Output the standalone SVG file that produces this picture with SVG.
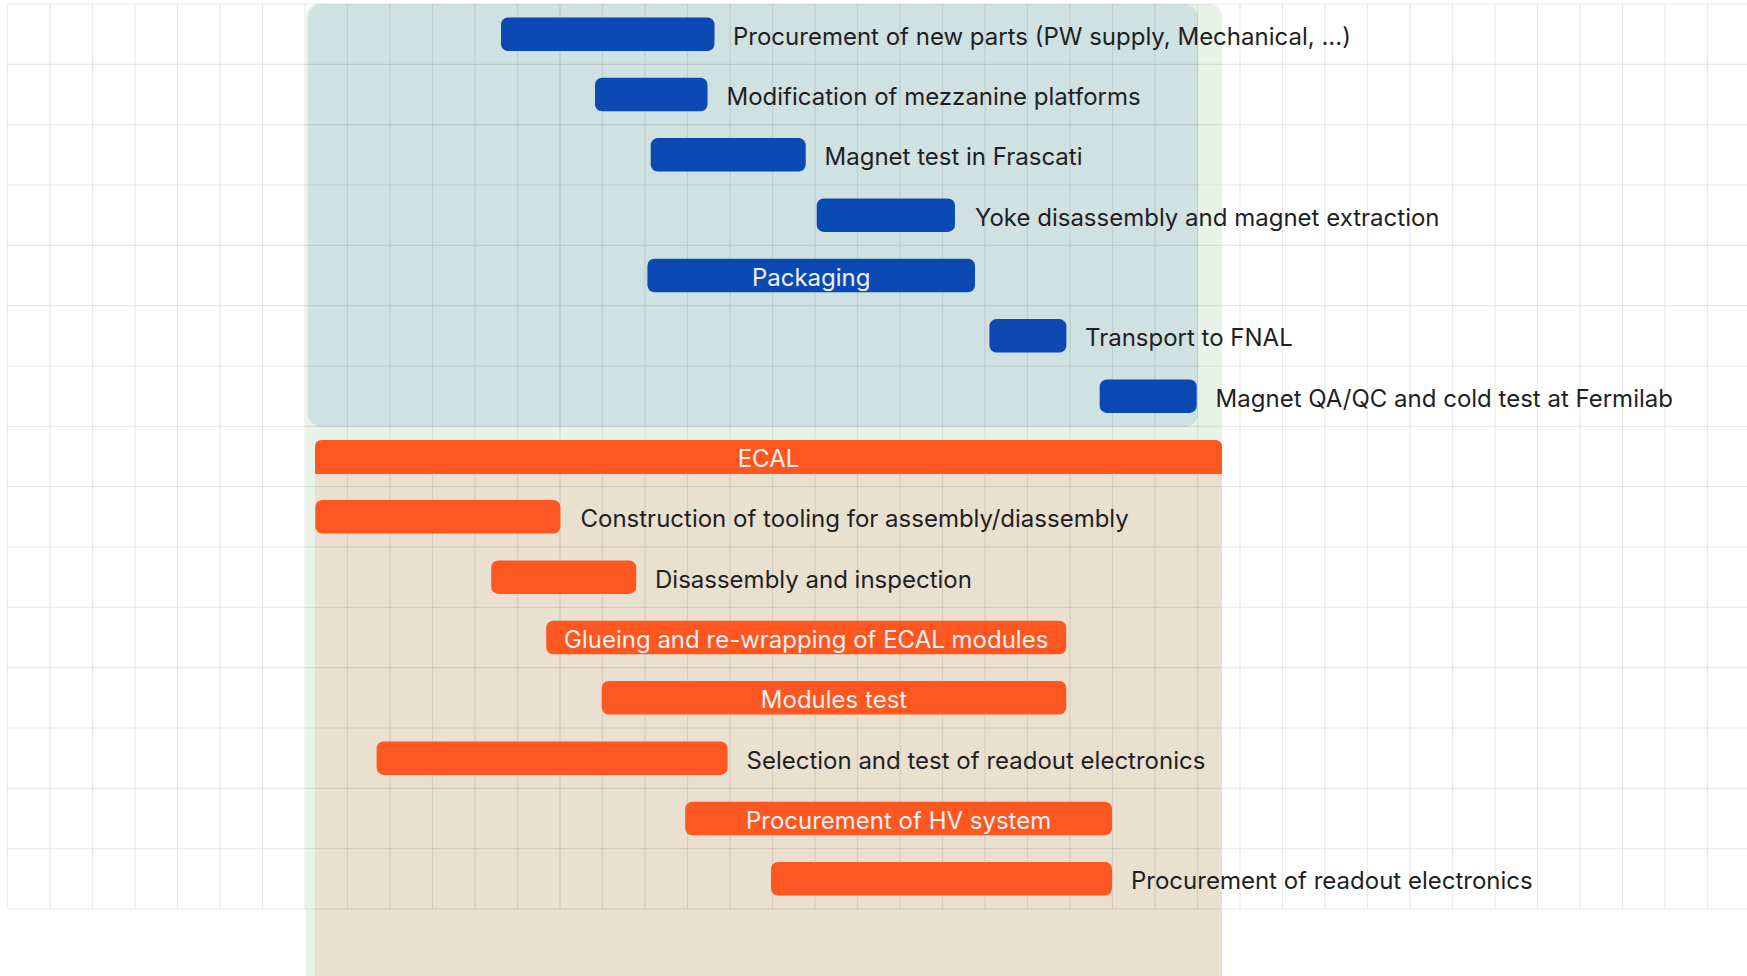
<svg xmlns="http://www.w3.org/2000/svg" width="1747" height="976" viewBox="0 0 1747 976">
<style>
.grid line{stroke:#000;stroke-opacity:0.085;stroke-width:1.2}
.bb{fill:#0b4ab2}
.ob{fill:#ff5722}
.lbl{font-family:Inter,"Liberation Sans",sans-serif;font-size:24px;fill:#1f1f1f}
.in{font-family:Inter,"Liberation Sans",sans-serif;font-size:24px;fill:#f0f0f0;text-anchor:middle}
</style>
<rect width="1747" height="976" fill="#ffffff"/>
<g id="groups">
<path d="M306 976 V18 Q306 4 320 4 H1208 Q1222 4 1222 18 V976 Z" fill="#e8f3e8"/>
<rect id="magnet-group" x="308" y="4" width="890" height="423" rx="14" fill="#d0e1e1"/>
<rect id="ecal-body" x="315" y="470" width="907" height="506" fill="#e9e0d0"/>
</g>
<g class="grid" id="grid">
<line x1="7.5" y1="4" x2="7.5" y2="909"/><line x1="50" y1="4" x2="50" y2="909"/><line x1="92.5" y1="4" x2="92.5" y2="909"/><line x1="135" y1="4" x2="135" y2="909"/><line x1="177.5" y1="4" x2="177.5" y2="909"/><line x1="220" y1="4" x2="220" y2="909"/><line x1="262.5" y1="4" x2="262.5" y2="909"/><line x1="305" y1="4" x2="305" y2="909"/><line x1="347.5" y1="4" x2="347.5" y2="909"/><line x1="390" y1="4" x2="390" y2="909"/><line x1="432.5" y1="4" x2="432.5" y2="909"/><line x1="475" y1="4" x2="475" y2="909"/><line x1="517.5" y1="4" x2="517.5" y2="909"/><line x1="560" y1="4" x2="560" y2="909"/><line x1="602.5" y1="4" x2="602.5" y2="909"/><line x1="645" y1="4" x2="645" y2="909"/><line x1="687.5" y1="4" x2="687.5" y2="909"/><line x1="730" y1="4" x2="730" y2="909"/><line x1="772.5" y1="4" x2="772.5" y2="909"/><line x1="815" y1="4" x2="815" y2="909"/><line x1="857.5" y1="4" x2="857.5" y2="909"/><line x1="900" y1="4" x2="900" y2="909"/><line x1="942.5" y1="4" x2="942.5" y2="909"/><line x1="985" y1="4" x2="985" y2="909"/><line x1="1027.5" y1="4" x2="1027.5" y2="909"/><line x1="1070" y1="4" x2="1070" y2="909"/><line x1="1112.5" y1="4" x2="1112.5" y2="909"/><line x1="1155" y1="4" x2="1155" y2="909"/><line x1="1197.5" y1="4" x2="1197.5" y2="909"/><line x1="1240" y1="4" x2="1240" y2="909"/><line x1="1282.5" y1="4" x2="1282.5" y2="909"/><line x1="1325" y1="4" x2="1325" y2="909"/><line x1="1367.5" y1="4" x2="1367.5" y2="909"/><line x1="1410" y1="4" x2="1410" y2="909"/><line x1="1452.5" y1="4" x2="1452.5" y2="909"/><line x1="1495" y1="4" x2="1495" y2="909"/><line x1="1537.5" y1="4" x2="1537.5" y2="909"/><line x1="1580" y1="4" x2="1580" y2="909"/><line x1="1622.5" y1="4" x2="1622.5" y2="909"/><line x1="1665" y1="4" x2="1665" y2="909"/><line x1="1707.5" y1="4" x2="1707.5" y2="909"/>
<line x1="7.5" y1="4" x2="1747" y2="4"/><line x1="7.5" y1="64.3" x2="1747" y2="64.3"/><line x1="7.5" y1="124.7" x2="1747" y2="124.7"/><line x1="7.5" y1="185" x2="1747" y2="185"/><line x1="7.5" y1="245.3" x2="1747" y2="245.3"/><line x1="7.5" y1="305.7" x2="1747" y2="305.7"/><line x1="7.5" y1="366" x2="1747" y2="366"/><line x1="7.5" y1="426.3" x2="1747" y2="426.3"/><line x1="7.5" y1="486.7" x2="1747" y2="486.7"/><line x1="7.5" y1="547" x2="1747" y2="547"/><line x1="7.5" y1="607.3" x2="1747" y2="607.3"/><line x1="7.5" y1="667.7" x2="1747" y2="667.7"/><line x1="7.5" y1="728" x2="1747" y2="728"/><line x1="7.5" y1="788.3" x2="1747" y2="788.3"/><line x1="7.5" y1="848.7" x2="1747" y2="848.7"/><line x1="7.5" y1="909" x2="1747" y2="909"/>
</g>
<g id="connectors"/>
<g id="n1"><rect class="bb" x="501" y="17.5" width="213.5" height="33.5" rx="7"/><text class="lbl" x="733" y="44.5">Procurement of new parts (PW supply, Mechanical, ...)</text></g>
<g id="n2"><rect class="bb" x="595" y="77.8" width="112.5" height="33.5" rx="7"/><text class="lbl" x="726.5" y="104.8">Modification of mezzanine platforms</text></g>
<g id="n3"><rect class="bb" x="650.7" y="138.1" width="155" height="33.5" rx="7"/><text class="lbl" x="824.5" y="165.1">Magnet test in Frascati</text></g>
<g id="n4"><rect class="bb" x="816.7" y="198.4" width="138.3" height="33.5" rx="7"/><text class="lbl" x="975" y="225.5">Yoke disassembly and magnet extraction</text></g>
<g id="n5"><rect class="bb" x="647.4" y="258.8" width="327.6" height="33.5" rx="7"/><text class="in" x="811.2" y="285.8">Packaging</text></g>
<g id="n6"><rect class="bb" x="989.4" y="319.1" width="77" height="33.5" rx="7"/><text class="lbl" x="1085" y="346.1">Transport to FNAL</text></g>
<g id="n7"><rect class="bb" x="1099.7" y="379.4" width="97" height="33.5" rx="7"/><text class="lbl" x="1215.6" y="406.5">Magnet QA/QC and cold test at Fermilab</text></g>
<g id="ecal"><path class="ob" d="M315 474 V447 Q315 440 322 440 H1215 Q1222 440 1222 447 V474 Z"/><text class="in" x="768.5" y="467">ECAL</text></g>
<g id="n8"><rect class="ob" x="315.3" y="500" width="245.1" height="33.5" rx="7"/><text class="lbl" x="580.5" y="527.1">Construction of tooling for assembly/diassembly</text></g>
<g id="n9"><rect class="ob" x="491.2" y="560.4" width="145" height="33.5" rx="7"/><text class="lbl" x="655" y="587.5">Disassembly and inspection</text></g>
<g id="n10"><rect class="ob" x="546.2" y="620.7" width="520.1" height="33.5" rx="7"/><text class="in" x="806.2" y="647.8">Glueing and re-wrapping of ECAL modules</text></g>
<g id="n11"><rect class="ob" x="601.7" y="681" width="464.6" height="33.5" rx="7"/><text class="in" x="834" y="708.1">Modules test</text></g>
<g id="n12"><rect class="ob" x="376.6" y="741.4" width="351" height="33.5" rx="7"/><text class="lbl" x="746.5" y="768.5">Selection and test of readout electronics</text></g>
<g id="n13"><rect class="ob" x="685.2" y="801.7" width="426.8" height="33.5" rx="7"/><text class="in" x="898.6" y="828.8">Procurement of HV system</text></g>
<g id="n14"><rect class="ob" x="771" y="862" width="341" height="33.5" rx="7"/><text class="lbl" x="1131" y="889.1">Procurement of readout electronics</text></g>
</svg>
